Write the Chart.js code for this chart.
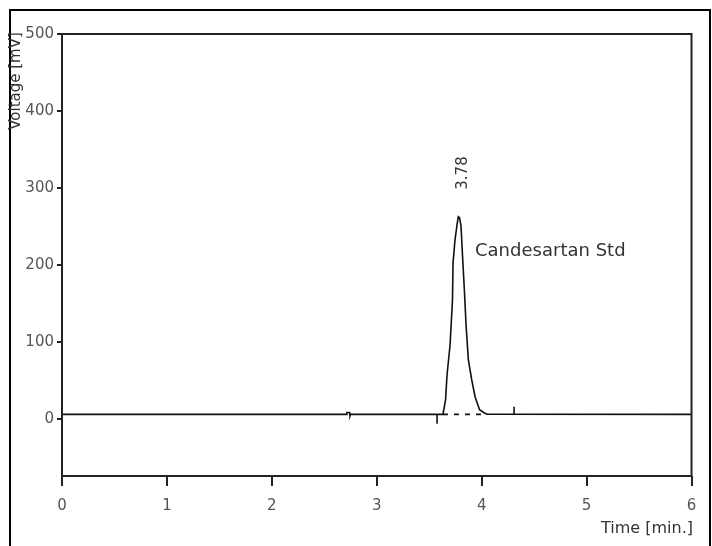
<!DOCTYPE html>
<html>
<head>
<meta charset="utf-8">
<script src="https://cdn.jsdelivr.net/npm/chart.js@4.4.0/dist/chart.umd.min.js"></script>
<style>
  html,body{margin:0;padding:0;background:#fff;}
  #wrap{width:712px;height:546px;position:relative;}
</style>
</head>
<body>
<div id="wrap"><canvas id="c" width="712" height="546"></canvas></div>
<script>
// ---- data ----
const traceTime = [0, 2.71, 2.715, 2.74, 2.745, 2.75, 3.631, 3.656, 3.670, 3.699, 3.722, 3.727, 3.746, 3.765, 3.777, 3.789, 3.803, 3.817, 3.836, 3.851, 3.873, 3.905, 3.937, 3.980, 4.023, 4.052, 6];
const traceVolt = [6, 6, 8.5, 8.5, 4, 6, 6, 25.1, 57.5, 96.4, 154.8, 202.8, 232.7, 252.2, 262.6, 261.3, 250.9, 213.3, 165.2, 122.4, 77.0, 51.0, 29.0, 12.1, 8.2, 6.2, 6];
const dashTime = [3.631, 4.052];
const dashVolt = [6, 6];
const markStartTime = [3.575, 3.575];
const markStartVolt = [6, -6];
const markEndTime = [4.309, 4.309];
const markEndVolt = [16, 6];
const xTicks = [0, 1, 2, 3, 4, 5, 6];
const yTicks = [0, 100, 200, 300, 400, 500];
const peakTime = 3.78;
const peakLabel = '3.78';
const peakName = 'Candesartan Std';
const xTitle = 'Time [min.]';
const yTitle = 'Voltage [mV]';

const pts = (xs, ys) => xs.map((x, i) => ({x: x, y: ys[i]}));

const decor = {
  id: 'decor',
  afterDraw(chart) {
    const ctx = chart.ctx, a = chart.chartArea;
    const xs = chart.scales.x;
    ctx.save();
    // outer frame
    ctx.strokeStyle = '#000';
    ctx.lineWidth = 2;
    ctx.strokeRect(10, 10, 700, 540);
    // plot box
    ctx.strokeStyle = '#222';
    ctx.lineWidth = 2;
    ctx.strokeRect(a.left, a.top, a.right - a.left, a.bottom - a.top);
    // peak retention time label (rotated)
    ctx.fillStyle = '#333';
    ctx.font = '15px "DejaVu Sans"';
    ctx.textAlign = 'center';
    ctx.textBaseline = 'middle';
    ctx.save();
    ctx.translate(xs.getPixelForValue(peakTime) + 5, 173);
    ctx.rotate(-Math.PI / 2);
    ctx.fillText(peakLabel, 0, 0);
    ctx.restore();
    // peak name
    ctx.font = '17px "DejaVu Sans"';
    ctx.textAlign = 'left';
    ctx.save();
    ctx.translate(475, 252);
    ctx.scale(1.06, 1);
    ctx.fillText(peakName, 0, 0);
    ctx.restore();
    // y title
    ctx.font = '15px "DejaVu Sans"';
    ctx.textAlign = 'center';
    ctx.save();
    ctx.translate(16, 81);
    ctx.rotate(-Math.PI / 2);
    ctx.fillText(yTitle, 0, 0);
    ctx.restore();
    // x title
    ctx.font = '16px "DejaVu Sans"';
    ctx.textAlign = 'right';
    ctx.fillText(xTitle, 693, 529);
    ctx.restore();
  }
};

new Chart(document.getElementById('c'), {
  type: 'line',
  data: {
    datasets: [
      {data: pts(traceTime, traceVolt), borderColor: '#111', borderWidth: 1.6, pointRadius: 0, tension: 0, fill: false},
      {data: pts(dashTime, dashVolt), borderColor: '#111', borderWidth: 1.6, borderDash: [5, 6], pointRadius: 0},
      {data: pts(markStartTime, markStartVolt), borderColor: '#111', borderWidth: 1.6, pointRadius: 0},
      {data: pts(markEndTime, markEndVolt), borderColor: '#111', borderWidth: 1.6, pointRadius: 0}
    ]
  },
  options: {
    responsive: false,
    animation: false,
    devicePixelRatio: 1,
    layout: {padding: {left: 0, top: 34, right: 20.5, bottom: 0}},
    plugins: {legend: {display: false}, tooltip: {enabled: false}},
    scales: {
      x: {
        type: 'linear', min: 0, max: 6,
        afterBuildTicks: s => { s.ticks = xTicks.map(v => ({value: v})); },
        afterFit: s => { s.height = 70; },
        grid: {drawOnChartArea: false, drawTicks: true, tickLength: 10, color: '#222', lineWidth: 2},
        border: {display: false},
        ticks: {font: {family: 'DejaVu Sans', size: 15}, color: '#555', padding: 11, maxRotation: 0}
      },
      y: {
        type: 'linear', min: -74, max: 500,
        afterBuildTicks: s => { s.ticks = yTicks.map(v => ({value: v})); },
        afterFit: s => { s.width = 62; },
        grid: {drawOnChartArea: false, drawTicks: true, tickLength: 5, color: '#222', lineWidth: 2},
        border: {display: false},
        ticks: {font: {family: 'DejaVu Sans', size: 15}, color: '#555', padding: 3}
      }
    }
  },
  plugins: [decor]
});
</script>
</body>
</html>
